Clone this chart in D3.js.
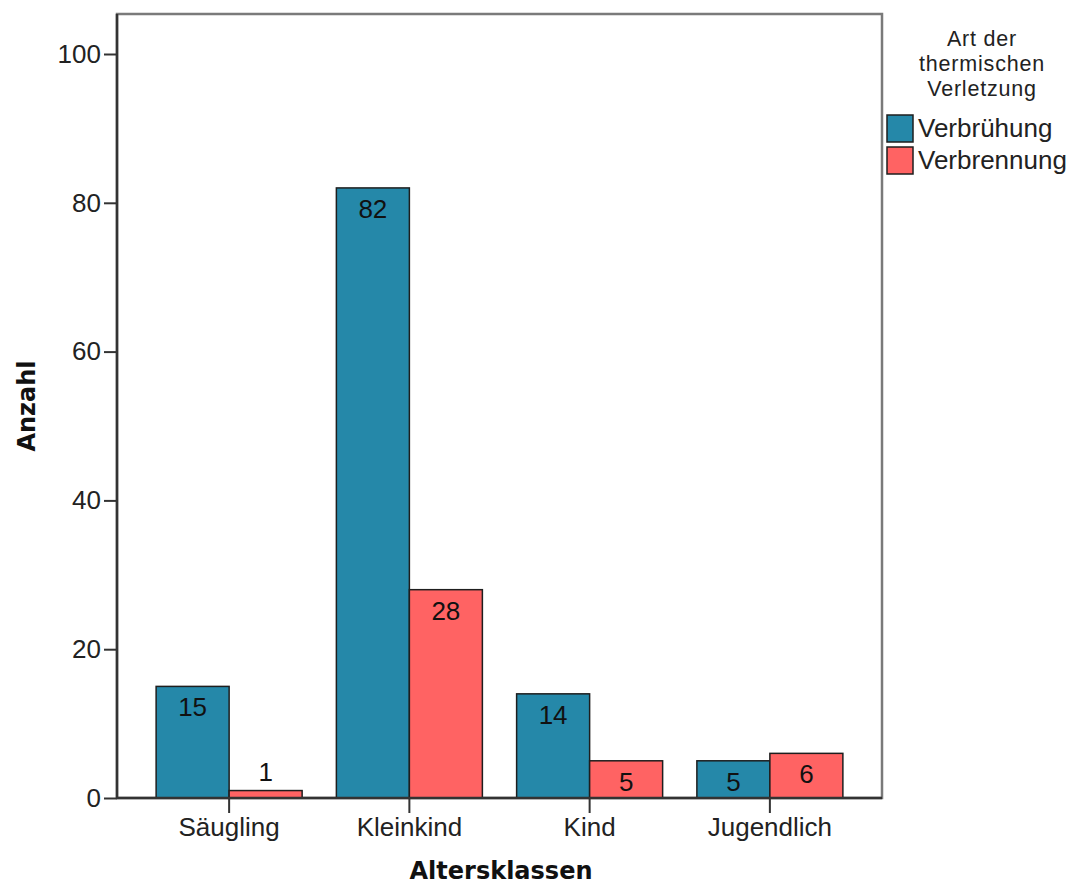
<!DOCTYPE html>
<html>
<head>
<meta charset="utf-8">
<script src="https://cdn.jsdelivr.net/npm/d3@7/dist/d3.min.js"></script>
<style>
  html, body { margin: 0; padding: 0; background: #ffffff; }
  svg { display: block; }
</style>
</head>
<body>
<svg id="chart" width="1081" height="886"></svg>
<script>
// ---- data ----
const categories = ["Säugling", "Kleinkind", "Kind", "Jugendlich"];
const seriesNames = ["Verbrühung", "Verbrennung"];
const verbruehung = [15, 82, 14, 5];
const verbrennung = [1, 28, 5, 6];
const yTicks = [0, 20, 40, 60, 80, 100];
const legendTitle = ["Art der", "thermischen", "Verletzung"];
const xTitle = "Altersklassen";
const yTitle = "Anzahl";

// ---- styles ----
const colors = ["#2588a9", "#ff6363"];
const textFont = "'Liberation Sans', Arial, sans-serif";
const titleFont = "'DejaVu Sans', Verdana, sans-serif";

const svg = d3.select("#chart");
const plot = { left: 117, right: 882, top: 14, bottom: 798 };

const x = d3.scaleBand().domain(categories).range([139, 860]).padding(0);
const xSub = d3.scaleBand().domain(seriesNames)
  .range([x.bandwidth() * 0.095, x.bandwidth() * 0.905]).padding(0);
const y = d3.scaleLinear().domain([0, 100]).range([plot.bottom, 54]);

const rows = categories.map((c, i) => ({
  cat: c,
  vals: [
    { s: seriesNames[0], v: verbruehung[i], k: 0 },
    { s: seriesNames[1], v: verbrennung[i], k: 1 }
  ]
}));

// frame (top/right gray)
svg.append("rect")
  .attr("x", plot.left).attr("y", plot.top)
  .attr("width", plot.right - plot.left).attr("height", plot.bottom - plot.top)
  .attr("fill", "none").attr("stroke", "#7a7a7a").attr("stroke-width", 2.5);

// bars
const g = svg.append("g");
const groups = g.selectAll("g.cat").data(rows).join("g")
  .attr("class", "cat")
  .attr("transform", d => `translate(${x(d.cat)},0)`);

groups.selectAll("rect").data(d => d.vals).join("rect")
  .attr("x", d => xSub(d.s))
  .attr("y", d => y(d.v))
  .attr("width", xSub.bandwidth())
  .attr("height", d => y(0) - y(d.v))
  .attr("fill", d => colors[d.k])
  .attr("stroke", "#1e1e1e")
  .attr("stroke-width", 1.5);

groups.selectAll("text.val").data(d => d.vals).join("text")
  .attr("class", "val")
  .attr("x", d => xSub(d.s) + xSub.bandwidth() / 2)
  .attr("y", d => (y(0) - y(d.v)) > 35 ? y(d.v) + 30 : y(d.v) - 10)
  .attr("text-anchor", "middle")
  .attr("font-family", textFont)
  .attr("font-size", "26px")
  .attr("fill", "#111")
  .text(d => d.v);

// y axis
const yAxis = svg.append("g")
  .attr("transform", `translate(${plot.left},0)`)
  .call(d3.axisLeft(y).tickValues(yTicks).tickSize(13).tickPadding(3));
yAxis.select(".domain").remove();
yAxis.selectAll(".tick line").attr("stroke", "#333").attr("stroke-width", 2);
yAxis.selectAll(".tick text")
  .attr("font-family", textFont).attr("font-size", "26px").attr("fill", "#222");

// x axis
const xAxis = svg.append("g")
  .attr("transform", `translate(0,${plot.bottom})`)
  .call(d3.axisBottom(x).tickSize(15).tickPadding(5));
xAxis.select(".domain").remove();
xAxis.selectAll(".tick line").attr("stroke", "#333").attr("stroke-width", 2);
xAxis.selectAll(".tick text")
  .attr("font-family", textFont).attr("font-size", "26px").attr("fill", "#222");

// axis lines (left & bottom dark)
svg.append("line").attr("x1", plot.left).attr("x2", plot.left)
  .attr("y1", plot.top).attr("y2", plot.bottom)
  .attr("stroke", "#333").attr("stroke-width", 2.5);
svg.append("line").attr("x1", plot.left).attr("x2", plot.right)
  .attr("y1", plot.bottom).attr("y2", plot.bottom)
  .attr("stroke", "#333").attr("stroke-width", 2.5);

// axis titles
svg.append("text")
  .attr("x", 501).attr("y", 879)
  .attr("text-anchor", "middle")
  .attr("font-family", titleFont).attr("font-weight", "bold")
  .attr("font-size", "24px").attr("fill", "#111")
  .text(xTitle);

svg.append("text")
  .attr("transform", `translate(35,${(plot.top + plot.bottom) / 2}) rotate(-90)`)
  .attr("text-anchor", "middle")
  .attr("font-family", titleFont).attr("font-weight", "bold")
  .attr("font-size", "24px").attr("fill", "#111")
  .text(yTitle);

// legend
const lg = svg.append("g");
lg.selectAll("text.lt").data(legendTitle).join("text")
  .attr("class", "lt")
  .attr("x", 982).attr("y", (d, i) => 46 + i * 25)
  .attr("text-anchor", "middle")
  .attr("font-family", textFont).attr("font-size", "21.5px")
  .attr("letter-spacing", "0.8px").attr("fill", "#222")
  .text(d => d);

const items = lg.selectAll("g.item").data(seriesNames).join("g")
  .attr("class", "item")
  .attr("transform", (d, i) => `translate(887,${115 + i * 32})`);
items.append("rect")
  .attr("width", 26).attr("height", 27)
  .attr("fill", (d, i) => colors[i])
  .attr("stroke", "#1e1e1e").attr("stroke-width", 1.5);
items.append("text")
  .attr("x", 31).attr("y", 22)
  .attr("font-family", textFont).attr("font-size", "26px").attr("fill", "#222")
  .text(d => d);
</script>
</body>
</html>
